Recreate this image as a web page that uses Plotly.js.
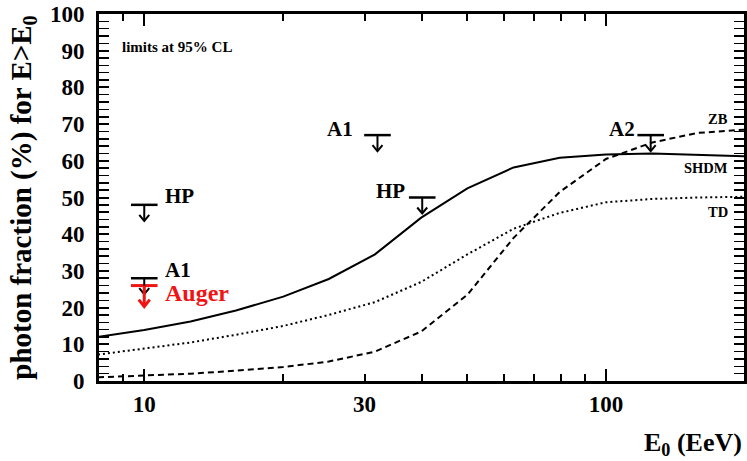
<!DOCTYPE html>
<html>
<head>
<meta charset="utf-8">
<script src="https://cdn.plot.ly/plotly-3.0.1.min.js"></script>
<style>
  html, body { margin: 0; padding: 0; background: #ffffff; }
  #chart { width: 747px; height: 461px; }
</style>
</head>
<body>
<div id="chart"></div>
<script>
// Primary energy threshold E0 (EeV), one node per 0.1 in log10
const energy = [7.94, 10, 12.6, 15.8, 20, 25.1, 31.6, 39.8, 50.1, 63.1, 79.4, 100, 126, 158, 200];

// Predicted photon fraction (%) above E0 for each model
const shdm = [12.0, 13.9, 16.2, 19.2, 23.0, 27.8, 34.5, 44.5, 52.5, 58.2, 60.8, 61.7, 62.0, 61.6, 61.2];
const td   = [7.2, 8.8, 10.5, 12.6, 15.0, 18.0, 21.5, 27.0, 34.5, 41.5, 45.8, 48.7, 49.6, 50.0, 50.2];
const zb   = [1.0, 1.4, 2.0, 2.8, 3.8, 5.3, 8.0, 13.5, 23.5, 39.0, 51.5, 60.5, 65.0, 67.6, 68.5];
const modelNames = ['ZB', 'SHDM', 'TD'];

// Experimental upper limits (95% CL)
const limitNames  = ['HP', 'A1', 'Auger', 'A1', 'HP', 'A2'];
const limitEnergy = [10, 10, 10, 32, 40, 125];
const limitValue  = [48, 28, 26, 67, 50, 67];

// Axis ticks
const xTickVals   = [10, 30, 100];
const xTickText   = ['10', '30', '100'];
const xMinorVals  = [9, 20, 40, 50, 60, 70, 80, 90, 200];
const xDecadeVals = [10, 100];

const SERIF = 'Liberation Serif';
const BLACK = '#000000';
const RED = '#f01414';
const xRange = [0.902, 2.299];
const yRange = [0, 100];

const isAuger = n => n === 'Auger';

// Downward arrows under each limit bar: a stem plus an open "V" head.
// Lengths are given in pixels and converted through the axis scales.
const plotW = 747 - 99 - 3, plotH = 461 - 14 - 79.5;
const pxToDecades = plotW / (xRange[1] - xRange[0]);
const pxToUnits = plotH / (yRange[1] - yRange[0]);
function arrowPath(sel, stemPx, headPx, halfPx) {
  const xs = [], ys = [];
  limitNames.forEach((n, i) => {
    if (!sel(n)) return;
    const e = limitEnergy[i], v = limitValue[i];
    const tip = v - stemPx / pxToUnits;
    const back = tip + headPx / pxToUnits;
    const f = Math.pow(10, halfPx / pxToDecades);
    xs.push(e, e, null, e / f, e, e * f, null);
    ys.push(v, tip, null, back, tip, back, null);
  });
  return { x: xs, y: ys };
}
const blackArrows = arrowPath(n => !isAuger(n), 16, 6, 5);
const redArrows = arrowPath(isAuger, 21, 7, 5.5);

const traces = [
  { x: energy, y: shdm, type: 'scatter', mode: 'lines', xaxis: 'x2',
    line: { color: BLACK, width: 2 }, hoverinfo: 'skip' },
  { x: energy, y: td, type: 'scatter', mode: 'lines',
    line: { color: BLACK, width: 2, dash: '2px,3px' }, hoverinfo: 'skip' },
  { x: energy, y: zb, type: 'scatter', mode: 'lines',
    line: { color: BLACK, width: 2, dash: '6px,4px' }, hoverinfo: 'skip' },
  // horizontal bars of the upper limits
  { x: limitEnergy.filter((e, i) => !isAuger(limitNames[i])),
    y: limitValue.filter((v, i) => !isAuger(limitNames[i])),
    type: 'scatter', mode: 'markers', hoverinfo: 'skip',
    marker: { symbol: 'line-ew', size: 19, line: { color: BLACK, width: 2.5 } } },
  { x: limitEnergy.filter((e, i) => isAuger(limitNames[i])),
    y: limitValue.filter((v, i) => isAuger(limitNames[i])),
    type: 'scatter', mode: 'markers', hoverinfo: 'skip',
    marker: { symbol: 'line-ew', size: 19, line: { color: RED, width: 3 } } },
  { x: blackArrows.x, y: blackArrows.y, type: 'scatter', mode: 'lines', hoverinfo: 'skip',
    line: { color: BLACK, width: 2 }, connectgaps: false },
  { x: redArrows.x, y: redArrows.y, type: 'scatter', mode: 'lines', hoverinfo: 'skip',
    line: { color: RED, width: 3 }, connectgaps: false }
];

// label placement for each limit (pixel offsets from the bar)
const limitLabelPlacement = [
  { xanchor: 'left',  xshift: 19,  yshift: 9 },
  { xanchor: 'left',  xshift: 19,  yshift: 8 },
  { xanchor: 'left',  xshift: 19,  yshift: -7 },
  { xanchor: 'right', xshift: -22, yshift: 6 },
  { xanchor: 'right', xshift: -15, yshift: 7 },
  { xanchor: 'right', xshift: -14, yshift: 6 }
];

const annotations = [];

limitNames.forEach((name, i) => {
  const red = isAuger(name);
  const p = limitLabelPlacement[i];
  annotations.push({
    x: Math.log10(limitEnergy[i]), y: limitValue[i], xref: 'x', yref: 'y',
    text: name, showarrow: false, xanchor: p.xanchor, yanchor: 'middle',
    xshift: p.xshift, yshift: p.yshift,
    font: { family: SERIF, size: red ? 24 : 21, weight: 'bold', color: red ? RED : BLACK }
  });
});

// model names at the right end of each curve
const modelLabelY = [71.4, 58.0, 46.0];
modelNames.forEach((name, i) => {
  annotations.push({
    x: 0.979, xref: 'paper', xanchor: 'right', y: modelLabelY[i], yref: 'y', yanchor: 'middle',
    text: name, showarrow: false,
    font: { family: SERIF, size: 14.5, weight: 'bold', color: BLACK }
  });
});

annotations.push({
  x: 0.033, xref: 'paper', xanchor: 'left', y: 0.91, yref: 'paper', yanchor: 'middle',
  text: 'limits at 95% CL', showarrow: false,
  font: { family: SERIF, size: 15, weight: 'bold', color: BLACK }
});

annotations.push({
  x: 1.0, xref: 'paper', xanchor: 'right', y: -0.171, yref: 'paper', yanchor: 'middle',
  text: 'E<sub>0</sub> (EeV)', showarrow: false,
  font: { family: SERIF, size: 26, weight: 'bold', color: BLACK }
});

const axisCommon = {
  showline: true, linecolor: BLACK, linewidth: 3,
  ticks: 'inside', tickcolor: BLACK, mirror: 'allticks',
  showgrid: false, zeroline: false, fixedrange: true
};

const layout = {
  width: 747, height: 461,
  margin: { l: 99, r: 3, t: 14, b: 79.5 },
  paper_bgcolor: '#ffffff', plot_bgcolor: '#ffffff',
  showlegend: false,
  xaxis: Object.assign({}, axisCommon, {
    type: 'log', range: xRange,
    tickmode: 'array', tickvals: xTickVals, ticktext: xTickText,
    ticklen: 7, tickwidth: 2,
    minor: { tickmode: 'array', tickvals: xMinorVals, ticks: 'inside', ticklen: 7, tickwidth: 2, tickcolor: BLACK },
    tickfont: { family: SERIF, size: 23, weight: 'bold', color: BLACK },
    ticklabelstandoff: 0
  }),
  xaxis2: {
    type: 'log', range: xRange, overlaying: 'x', anchor: 'y', side: 'bottom',
    tickmode: 'array', tickvals: xDecadeVals, ticks: 'inside', ticklen: 12, tickwidth: 2,
    tickcolor: BLACK, mirror: 'ticks', showticklabels: false, showline: false,
    showgrid: false, zeroline: false, fixedrange: true
  },
  yaxis: Object.assign({}, axisCommon, {
    range: yRange, tickmode: 'linear', tick0: 0, dtick: 10,
    ticklen: 10, tickwidth: 2,
    minor: { dtick: 2, ticks: 'inside', ticklen: 5, tickwidth: 1.5, tickcolor: BLACK },
    tickfont: { family: SERIF, size: 23, weight: 'bold', color: BLACK },
    ticklabelstandoff: 7,
    title: { text: 'photon fraction (%) for E&gt;E<sub>0</sub>', standoff: 10,
             font: { family: SERIF, size: 29, weight: 'bold', color: BLACK } }
  }),
  annotations: annotations
};

Plotly.newPlot('chart', traces, layout, { staticPlot: true, displayModeBar: false });
</script>
</body>
</html>
